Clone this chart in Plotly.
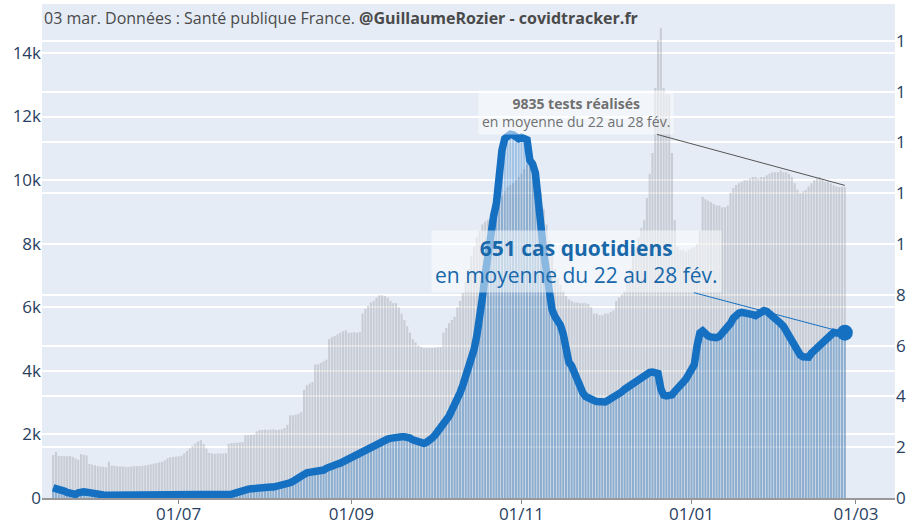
import pandas as pd
import plotly.graph_objects as go

dates = pd.date_range("2020-05-17", "2021-02-25", freq="D")

# Tests (7-day average) - left axis
tests = [
    1350, 1450, 1330, 1320, 1320, 1310, 1320, 1300, 1250, 1200,
    1380, 1360, 1340, 1070, 1050, 1030, 1000, 990, 980, 970,
    1140, 1020, 1010, 1000, 990, 990, 980, 980, 990, 1000,
    1000, 1000, 1010, 1020, 1040, 1060, 1080, 1100, 1120, 1140,
    1180, 1250, 1280, 1290, 1300,
    1310, 1330, 1400, 1480, 1560, 1640, 1720, 1780, 1820, 1700,
    1550, 1420, 1400, 1390, 1400, 1400, 1400, 1410, 1700, 1730,
    1730, 1740, 1750, 1760, 1980,
    1980, 1990, 2000, 2100, 2140, 2140, 2150, 2140, 2150, 2160,
    2140, 2150, 2160, 2200, 2300, 2600, 2600, 2620, 2650, 2700,
    3400, 3550, 3600, 3650, 4200, 4200, 4250, 4300, 4350, 5000,
    5060, 5100, 5150, 5200, 5250, 5280, 5200, 5200, 5220, 5200,
    5220, 5800, 5950, 6050, 6150, 6200, 6300, 6380, 6380, 6350,
    6300, 6200, 6130, 6130, 6000, 5800, 5600, 5400, 5200, 5000,
    4900, 4800, 4750, 4720, 4720, 4720, 4720, 4730, 4740, 4750,
    5200, 5350, 5500, 5600, 5700, 6000, 6200, 6450, 6800, 7200,
    7600, 7900, 8200, 8400, 8600, 8700, 8750, 8800, 8840, 9100,
    9370, 9500, 9650, 9780, 9850, 9900, 10000, 10100, 10200, 10350,
    10500, 10500, 10450, 10300, 10000, 9600, 9100, 8600, 8100, 7600,
    7200, 6900, 6700, 6500, 6350, 6250, 6200, 6150, 6150, 6130,
    6130, 6130, 6100, 6000, 5800, 5800, 5750, 5750, 5800, 5800,
    5850, 5900, 6200, 6300, 6400, 6500, 6850, 7200, 7600, 7900,
    8200, 8500, 8740, 9440, 10200, 10850, 12900, 14400, 14780, 12900,
    12700, 12700, 10850, 8740, 7900, 7800, 7800, 7750, 7800, 7850,
    7900, 8000, 8400, 9470, 9400, 9350, 9300, 9250, 9200, 9200,
    9150, 9150, 9200, 9600, 9750, 9850, 9900, 9950, 10000, 10000,
    10050, 10100, 10100, 10050, 10100, 10100, 10150, 10200, 10250, 10250,
    10250, 10300, 10250, 10250, 10200, 10100, 9900, 9700, 9600, 9650,
    9700, 9800, 9900, 10000, 10050, 10100, 10000, 9950, 9950, 9900,
    9850, 9800, 9780, 9790, 9780,
]

# Cases (7-day average) - right axis
cases = [
    40, 38, 35, 31, 27, 22, 17, 13, 14, 20, 24, 24, 23, 20, 17, 15, 14, 13, 12, 11,
    11, 10, 10, 10, 9, 9, 10, 10, 9, 9,
    9, 9, 10, 10, 9, 9, 9, 9, 10, 10,
    10, 9, 9, 9, 9, 10, 10, 10, 9, 9,
    9, 9, 10, 10, 10, 9, 9, 9, 10, 10,
    10, 11,
    12, 13, 15, 18, 22, 28, 31, 33, 35, 36,
    38, 39, 40, 41, 41, 42, 43, 43, 45, 47,
    49, 52, 55, 60, 65, 70, 78, 86, 93, 99,
    100, 100, 100, 101, 104, 110, 117, 123,
    128, 131, 134, 137, 143, 150, 155, 160, 165, 172,
    180, 186, 192, 197, 201, 205, 209, 215, 221, 227,
    232, 235, 238, 240, 240, 241, 241, 240, 236, 229,
    225, 221, 217, 215, 220, 226, 236, 248, 262, 275,
    287, 303, 322, 345, 365, 384, 415, 445, 478, 512,
    545, 585, 640, 700, 790, 880, 975, 1050, 1110, 1160,
    1290, 1370, 1415, 1428, 1432, 1430, 1418, 1415, 1420, 1418,
    1410, 1330, 1315, 1280, 1200, 1070, 965, 880, 810, 740,
    715, 700, 680, 645, 570, 535, 520, 490, 465, 440,
    415, 400, 392, 386, 384, 380, 377, 376, 378, 384,
    390, 394, 400, 410, 418, 428, 436, 443, 452, 462,
    470, 478, 486, 492, 495, 496, 495, 490, 430, 405,
    402, 404, 406, 420, 436, 445, 456, 468, 488, 500,
    525, 600, 650, 658, 645, 638, 634, 632, 631, 636,
    648, 658, 668, 688, 708, 720, 728, 731, 730, 727,
    725, 722, 718, 725, 735, 738, 735, 727, 718, 705,
    695, 687, 676, 658, 640, 618, 598, 577, 563, 556,
    553, 555, 570, 580, 590, 600, 608, 622, 632, 645,
    652, 650, 651, 651, 651,
]

left_tickvals = [0, 2000, 4000, 6000, 8000, 10000, 12000, 14000]
left_ticktext = ["0", "2k", "4k", "6k", "8k", "10k", "12k", "14k"]

title_text = "03 mar. Données : Santé publique France. <b>@GuillaumeRozier - covidtracker.fr</b>"
tests_label = "<b>9835 tests réalisés</b><br>en moyenne du 22 au 28 fév."
cases_label = "<b>651 cas quotidiens</b><br>en moyenne du 22 au 28 fév."
tests_avg = 9835
cases_avg = 651

blue = "rgb(21,112,194)"

fig = go.Figure()
fig.add_trace(go.Bar(x=dates, y=tests, marker=dict(color="rgba(150,150,155,0.36)", line=dict(width=0)),
                     yaxis="y", name="tests", hoverinfo="skip"))
fig.add_trace(go.Bar(x=dates, y=cases, marker=dict(color="rgba(21,112,194,0.33)", line=dict(width=0)),
                     yaxis="y2", name="cas", hoverinfo="skip"))
fig.add_trace(go.Scatter(x=dates, y=cases, mode="lines", line=dict(color=blue, width=7.5),
                         yaxis="y2", name="moyenne"))
fig.add_trace(go.Scatter(x=[dates[-1]], y=[cases[-1]], mode="markers",
                         marker=dict(color=blue, size=16), yaxis="y2"))

fig.update_layout(
    width=906, height=524,
    margin=dict(l=42, r=11, t=4, b=26, pad=0),
    showlegend=False,
    barmode="overlay", bargap=0.25,
    plot_bgcolor="#e5ecf6", paper_bgcolor="white",
    font=dict(family="Open Sans", color="#2a3f5f"),
    xaxis=dict(type="date", range=["2020-05-13", "2021-03-15"],
               tick0="2020-07-01", dtick="M2", tickformat="%d/%m",
               showgrid=False, ticks="outside", ticklen=4, tickcolor="#888",
               showline=True, linecolor="#999", linewidth=2,
               tickfont=dict(size=17), automargin=False, ticklabeloverflow="allow",
               ticklabelstandoff=-4),
    yaxis=dict(range=[0, 15540], tickvals=left_tickvals, ticktext=left_ticktext,
               gridcolor="white", gridwidth=1.5, zeroline=False, tickfont=dict(size=17),
               automargin=False, ticklabeloverflow="allow"),
    yaxis2=dict(range=[0, 1945], overlaying="y", side="right", dtick=200, tick0=0,
                gridcolor="white", gridwidth=1.5, zeroline=False, automargin=False,
                tickfont=dict(size=17), ticklabeloverflow="allow"),
)

fig.add_annotation(xref="paper", yref="paper", x=0, y=1, xanchor="left", yanchor="top",
                   yshift=-1, text=title_text, showarrow=False,
                   font=dict(size=16, color="#4a4a4a"), align="left")

fig.add_annotation(x=dates[-1], y=tests_avg, xref="x", yref="y", text=tests_label,
                   showarrow=True, arrowhead=0, arrowwidth=1, arrowcolor="#555",
                   ax=-269, ay=-73, font=dict(size=14, color="#707070"),
                   bgcolor="rgba(255,255,255,0.5)", borderpad=3)

fig.add_annotation(x=dates[-1], y=cases_avg, xref="x", yref="y2", text=cases_label,
                   showarrow=True, arrowhead=0, arrowwidth=1, arrowcolor=blue,
                   ax=-268, ay=-71, font=dict(size=21, color="rgb(24,104,170)"),
                   bgcolor="rgba(255,255,255,0.5)", borderpad=3)

fig.write_html("out.html", config={"displayModeBar": False},
               post_script="document.body.style.margin='0';document.body.style.padding='0';document.body.style.overflow='hidden';")
